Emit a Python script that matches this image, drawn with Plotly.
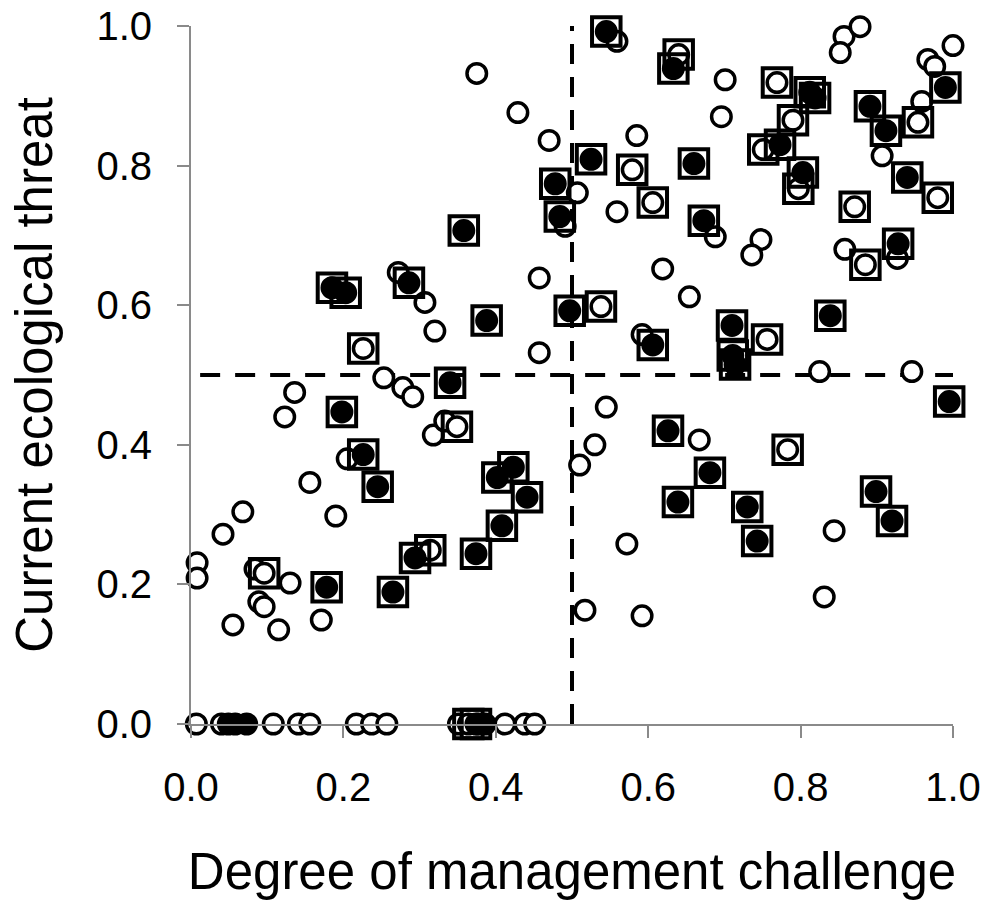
import plotly.graph_objects as go

# Open circles (no square)
open_x = [0.272, 0.307, 0.320, 0.375, 0.429, 0.470, 0.507, 0.491, 0.457, 0.457,
          0.559, 0.701, 0.696, 0.585, 0.559, 0.688, 0.619, 0.654, 0.592, 0.748,
          0.736, 0.857, 0.878, 0.852, 1.000, 0.967, 0.976, 0.959, 0.907, 0.858,
          0.927, 0.825, 0.946,
          0.136, 0.123, 0.205, 0.156, 0.190, 0.068, 0.042, 0.008, 0.008, 0.084,
          0.130, 0.089, 0.096, 0.055, 0.115, 0.171, 0.253, 0.278, 0.291, 0.318,
          0.333,
          0.545, 0.667, 0.530, 0.510, 0.572, 0.517, 0.592, 0.844, 0.831,
          0.007, 0.040, 0.108, 0.141, 0.156, 0.217, 0.237, 0.257, 0.351, 0.412,
          0.438, 0.451]
open_y = [0.647, 0.604, 0.563, 0.932, 0.876, 0.836, 0.761, 0.713, 0.639, 0.532,
          0.978, 0.923, 0.870, 0.843, 0.734, 0.698, 0.652, 0.612, 0.558, 0.694,
          0.672, 0.985, 0.999, 0.962, 0.972, 0.952, 0.942, 0.892, 0.814, 0.680,
          0.667, 0.505, 0.505,
          0.475, 0.440, 0.380, 0.346, 0.298, 0.304, 0.272, 0.231, 0.209, 0.222,
          0.202, 0.175, 0.168, 0.142, 0.135, 0.149, 0.496, 0.482, 0.469, 0.414,
          0.434,
          0.454, 0.407, 0.400, 0.371, 0.258, 0.163, 0.155, 0.277, 0.182,
          0.0, 0.0, 0.0, 0.0, 0.0, 0.0, 0.0, 0.0, 0.0, 0.0,
          0.0, 0.0]

# Open circles enclosed by a square
open_sq_x = [0.226, 0.640, 0.579, 0.606, 0.538, 0.756, 0.769, 0.790, 0.751, 0.797,
             0.954, 0.980, 0.871, 0.885, 0.096, 0.314, 0.349, 0.783, 0.364]
open_sq_y = [0.538, 0.959, 0.794, 0.747, 0.598, 0.551, 0.919, 0.865, 0.823, 0.767,
             0.862, 0.754, 0.741, 0.658, 0.216, 0.249, 0.426, 0.393, 0.0]

# Filled circles (no square)
filled_x = [0.049, 0.058, 0.073, 0.377, 0.386]
filled_y = [0.0, 0.0, 0.0, 0.0, 0.0]

# Filled circles enclosed by a square
filled_sq_x = [0.185, 0.203, 0.286, 0.358, 0.478, 0.484, 0.388, 0.497, 0.545, 0.633,
               0.525, 0.660, 0.673, 0.606, 0.710, 0.711, 0.714, 0.812, 0.819, 0.773,
               0.803, 0.990, 0.891, 0.912, 0.940, 0.928, 0.839,
               0.198, 0.226, 0.245, 0.178, 0.265, 0.294, 0.340, 0.423, 0.402, 0.441,
               0.408, 0.374,
               0.626, 0.681, 0.639, 0.730, 0.743, 0.899, 0.920, 0.995, 0.374]
filled_sq_y = [0.625, 0.618, 0.632, 0.707, 0.774, 0.727, 0.578, 0.592, 0.992, 0.939,
               0.809, 0.803, 0.721, 0.543, 0.571, 0.528, 0.515, 0.905, 0.897, 0.830,
               0.790, 0.912, 0.885, 0.850, 0.783, 0.688, 0.585,
               0.447, 0.386, 0.340, 0.196, 0.189, 0.238, 0.489, 0.368, 0.353, 0.325,
               0.284, 0.244,
               0.420, 0.360, 0.318, 0.311, 0.262, 0.333, 0.291, 0.462, 0.0]

threshold = 0.5
x_ticks = [0.0, 0.2, 0.4, 0.6, 0.8, 1.0]
y_ticks = [0.0, 0.2, 0.4, 0.6, 0.8, 1.0]
x_title = "Degree of management challenge"
y_title = "Current ecological threat"

FONT = "Liberation Sans, Arial, sans-serif"

fig = go.Figure()

# dashed threshold lines
fig.add_trace(go.Scatter(x=[threshold, threshold], y=[0, 1], mode="lines",
                         line=dict(color="black", width=4, dash="20px,13px"),
                         hoverinfo="skip", showlegend=False, cliponaxis=False))
fig.add_trace(go.Scatter(x=[0.012, 1.0], y=[threshold, threshold], mode="lines",
                         line=dict(color="black", width=4, dash="20px,15px"),
                         hoverinfo="skip", showlegend=False, cliponaxis=False))

fig.add_trace(go.Scatter(x=open_x + open_sq_x, y=open_y + open_sq_y, mode="markers",
                         marker=dict(symbol="circle", size=19.5, color="white",
                                     line=dict(color="black", width=3.5)),
                         showlegend=False, cliponaxis=False))
fig.add_trace(go.Scatter(x=filled_x + filled_sq_x, y=filled_y + filled_sq_y, mode="markers",
                         marker=dict(symbol="circle", size=19.5, color="black",
                                     line=dict(color="black", width=3.5)),
                         showlegend=False, cliponaxis=False))
fig.add_trace(go.Scatter(x=open_sq_x + filled_sq_x, y=open_sq_y + filled_sq_y, mode="markers",
                         marker=dict(symbol="square-open", size=28.5, color="black",
                                     line=dict(color="black", width=4)),
                         showlegend=False, cliponaxis=False))

axis_common = dict(showgrid=False, zeroline=False, showline=True, linecolor="#8a8a8a",
                   linewidth=2, ticks="outside", ticklen=12, tickwidth=2,
                   tickcolor="#8a8a8a", tickfont=dict(family=FONT, size=40, color="black"),
                   tickformat=".1f", range=[0, 1], automargin=False)

fig.update_layout(
    width=989, height=903,
    margin=dict(l=191, r=36, t=26, b=179),
    paper_bgcolor="white", plot_bgcolor="white",
    xaxis=dict(**axis_common, tickvals=x_ticks, ticklabelstandoff=15,
               title=dict(text=x_title, font=dict(family=FONT, size=51, color="black"),
                          standoff=45)),
    yaxis=dict(**axis_common, tickvals=y_ticks, ticklabelstandoff=17,
               title=dict(text=y_title, font=dict(family=FONT, size=51, color="black"),
                          standoff=28)),
)

fig.write_html("out.html")
